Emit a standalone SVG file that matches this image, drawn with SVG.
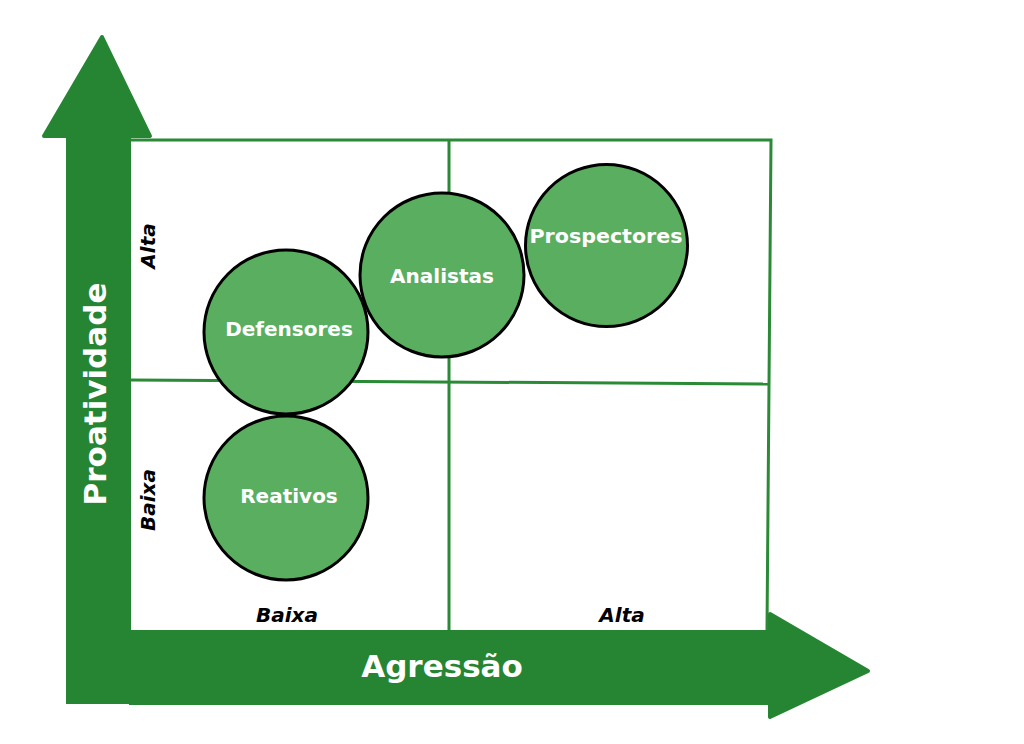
<svg xmlns="http://www.w3.org/2000/svg" width="1024" height="744" viewBox="0 0 1024 744">
<style>
.grid{stroke:#2a8a35;stroke-width:3;fill:none}
.arrow{fill:#258532}
.node{fill:#5aae5f;stroke:#000;stroke-width:3}
.nlabel{font-family:"DejaVu Sans",sans-serif;font-weight:bold;font-size:20px;fill:#fff;text-anchor:middle}
.axis{font-family:"DejaVu Sans",sans-serif;font-weight:bold;font-size:31px;fill:#fff;text-anchor:middle}
.tick{font-family:"DejaVu Sans",sans-serif;font-weight:bold;font-style:italic;font-size:20px;fill:#000;text-anchor:middle}
</style>
<rect width="1024" height="744" fill="#fff"/>
<g id="grid">
<path class="grid" d="M131 140 L771 140 L767 630"/>
<path class="grid" d="M131 380 L768 384"/>
<path class="grid" d="M449 140 L449 630"/>
</g>
<g id="connectors">
<g id="y-axis">
<rect class="arrow" x="66" y="138" width="65" height="566"/>
<path class="arrow" d="M102 37 L150 136 L44 136 Z" stroke="#258532" stroke-width="4" stroke-linejoin="round"/>
<text class="axis" transform="translate(106 394) rotate(-90)">Proatividade</text>
</g>
<g id="x-axis">
<rect class="arrow" x="129" y="630" width="642" height="75"/>
<path class="arrow" d="M770 614 L868 671 L770 717 Z" stroke="#258532" stroke-width="4" stroke-linejoin="round"/>
<text class="axis" x="442" y="677">Agressão</text>
</g>
</g>
<g id="labels">
<text class="tick" transform="translate(155 246) rotate(-90)">Alta</text>
<text class="tick" transform="translate(155 500) rotate(-90)">Baixa</text>
<text class="tick" x="287" y="622">Baixa</text>
<text class="tick" x="622" y="622">Alta</text>
</g>
<g id="defensores">
<circle class="node" cx="286" cy="332" r="82"/>
<text class="nlabel" x="289" y="336">Defensores</text>
</g>
<g id="analistas">
<circle class="node" cx="442" cy="275" r="82"/>
<text class="nlabel" x="442" y="283">Analistas</text>
</g>
<g id="prospectores">
<circle class="node" cx="606.5" cy="245.5" r="81"/>
<text class="nlabel" x="606" y="243" textLength="153" lengthAdjust="spacingAndGlyphs">Prospectores</text>
</g>
<g id="reativos">
<circle class="node" cx="286" cy="498" r="82"/>
<text class="nlabel" x="289" y="503">Reativos</text>
</g>
</svg>
